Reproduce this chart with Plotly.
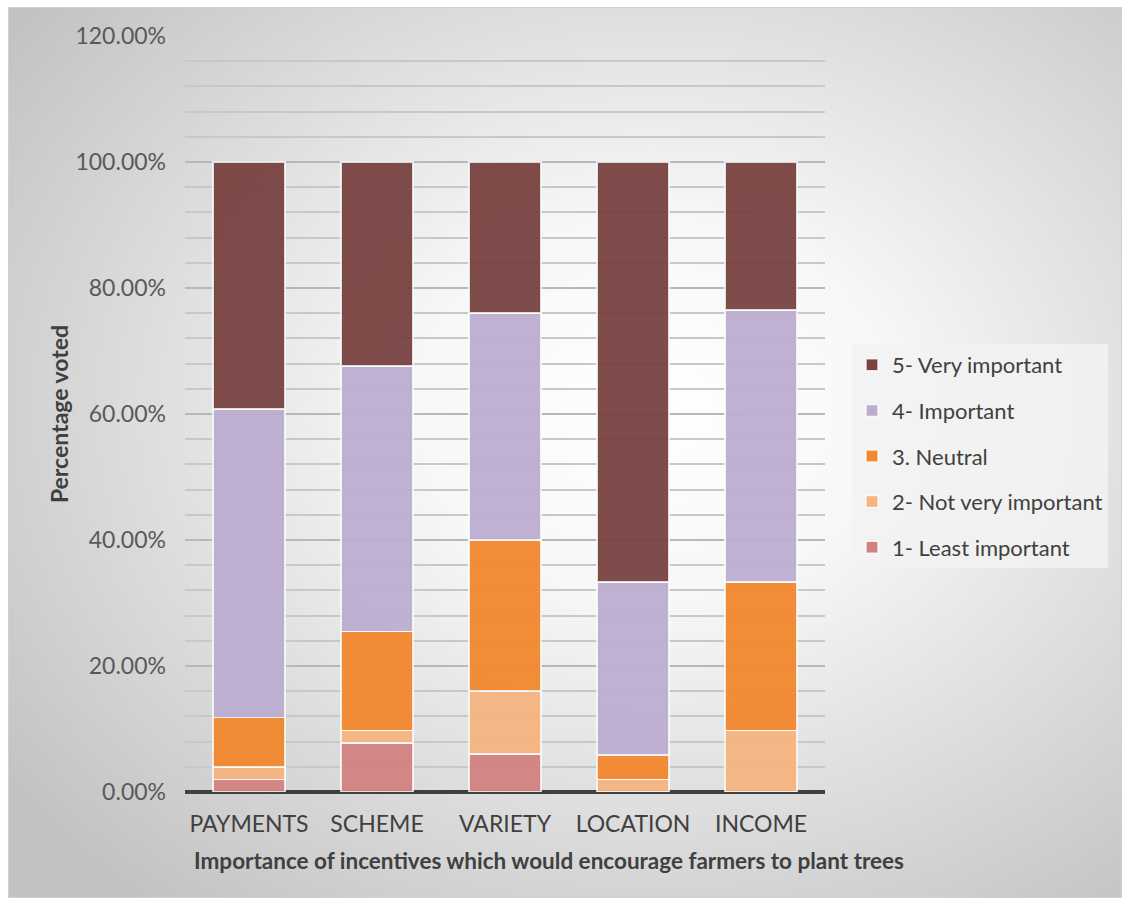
import base64
import plotly.graph_objects as go

categories = ["PAYMENTS", "SCHEME", "VARIETY", "LOCATION", "INCOME"]
series_names = ["1- Least important", "2- Not very important", "3. Neutral",
                "4- Important", "5- Very important"]
least_important = [2.0, 7.8, 6.0, 0.0, 0.0]
not_very_important = [2.0, 2.0, 10.0, 2.0, 9.8]
neutral = [7.8, 15.7, 24.0, 3.9, 23.5]
important = [49.0, 42.1, 36.0, 27.4, 43.2]
very_important = [39.2, 32.4, 24.0, 66.7, 23.5]
series_values = [least_important, not_very_important, neutral, important, very_important]
colors = ["#D38282", "#F6B480", "#F2872E", "#BDAED0", "#784341"]
y_tickvals = [0, 20, 40, 60, 80, 100, 120]
y_ticktext = ["0.00%", "20.00%", "40.00%", "60.00%", "80.00%", "100.00%", "120.00%"]
x_title = "Importance of incentives which would encourage farmers to plant trees"
y_title = "Percentage voted"

FONT = "Lato, 'Open Sans', sans-serif"

fig = go.Figure()
for i, (name, vals, col) in enumerate(zip(series_names, series_values, colors)):
    fig.add_trace(go.Bar(
        x=categories, y=vals, name=name, legendgroup=str(i), legendrank=10 - i,
        marker=dict(color=col, opacity=0.95, line=dict(color="rgba(255,255,255,0.8)", width=1.5)),
    ))

# radial gradient background as SVG data URI
svg = ('<svg xmlns="http://www.w3.org/2000/svg" width="1114" height="892">'
       '<defs><radialGradient id="g" cx="0.58" cy="0.45" r="0.72">'
       '<stop offset="0" stop-color="#ffffff"/><stop offset="0.3" stop-color="#f7f7f7"/>'
       '<stop offset="1" stop-color="#c2c2c2"/></radialGradient></defs>'
       '<rect x="0.5" y="0.5" width="1113" height="891" fill="url(#g)" stroke="#d0d0d0"/></svg>')
uri = "data:image/svg+xml;base64," + base64.b64encode(svg.encode()).decode()

L, R, T, B = 185, 825, 36, 792
W, H = R - L, B - T
fig.add_layout_image(dict(source=uri, xref="paper", yref="paper",
                          x=(8 - L) / W, y=(B - 7) / H, sizex=1114 / W, sizey=891 / H,
                          xanchor="left", yanchor="top", sizing="stretch", layer="below"))

fig.add_annotation(text="<b>" + x_title + "</b>", xref="paper", yref="paper",
                   x=(549 - L) / W, y=(B - 860) / H, xanchor="center", yanchor="middle",
                   showarrow=False, font=dict(size=22.5, color="#404040"))

fig.update_layout(
    width=1122, height=902,
    margin=dict(l=L, r=1122 - R, t=T, b=902 - B, autoexpand=False),
    barmode="stack", bargap=0.44,
    paper_bgcolor="white", plot_bgcolor="rgba(0,0,0,0)",
    font=dict(family=FONT, color="#404040", size=24),
    legend=dict(x=(852 - L) / W, y=(B - 344) / H, xanchor="left", yanchor="top",
                traceorder="grouped", tracegroupgap=14,
                bgcolor="rgba(242,242,242,0.85)", borderwidth=0,
                font=dict(size=22, color="#404040"), itemwidth=30),
    xaxis=dict(tickfont=dict(size=23, color="#404040"), showline=False, ticks="",
               ticklabelstandoff=16),
    yaxis=dict(range=[0, 120], tickvals=y_tickvals, ticktext=y_ticktext,
               tickfont=dict(size=23, color="#595959"), ticklabelstandoff=18,
               title=dict(text="<b>" + y_title + "</b>", font=dict(size=23, color="#404040"), standoff=0),
               showgrid=True, gridcolor="#b8b8b8", gridwidth=1.5,
               minor=dict(dtick=4, showgrid=True, gridcolor="#c8c8c8", gridwidth=1.5),
               zeroline=True, zerolinecolor="#404040", zerolinewidth=4, ticks=""),
)
fig.write_html("out.html")
